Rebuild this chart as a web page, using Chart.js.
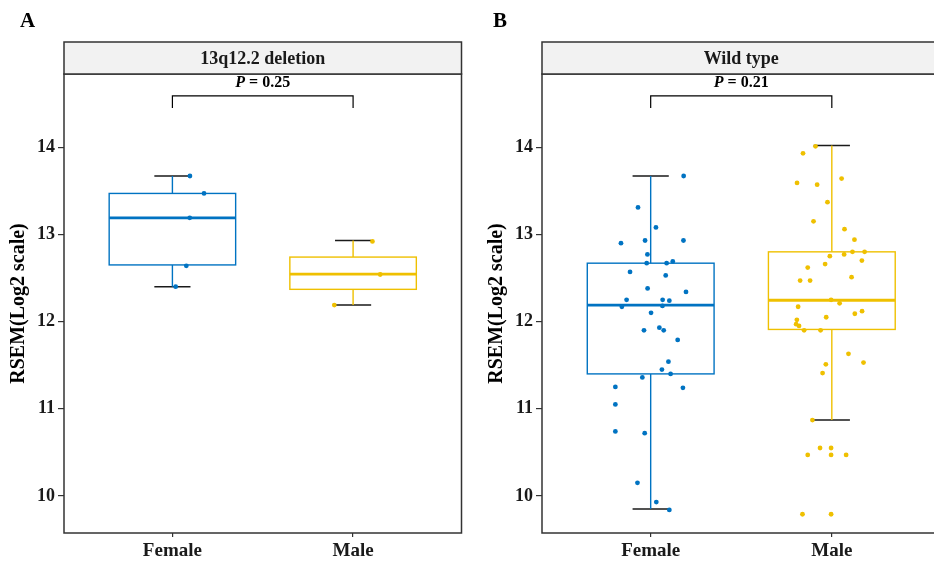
<!DOCTYPE html>
<html>
<head>
<meta charset="utf-8">
<script src="https://cdn.jsdelivr.net/npm/chart.js@4.4.1/dist/chart.umd.min.js"></script>
<style>
  html, body { margin: 0; padding: 0; background: #fff; overflow: hidden; width: 934px; height: 562px; }
  canvas { position: absolute; top: 0; }
  #panelA { left: 0; }
  #panelB { left: 478px; }
</style>
</head>
<body>
<canvas id="panelA" width="467" height="562"></canvas>
<canvas id="panelB" width="468" height="562"></canvas>
<script>
// categories and axis ticks
const categories = ['Female', 'Male'];
const yTicks = [10, 11, 12, 13, 14];
const colors = ['#0073C2', '#EFC000'];

// box stats per group: [lower whisker, Q1, median, Q3, upper whisker]
const boxA = [[12.40, 12.65, 13.19, 13.47, 13.67], [12.19, 12.37, 12.545, 12.74, 12.93]];
const boxB = [[9.85, 11.40, 12.19, 12.67, 13.67], [10.87, 11.91, 12.245, 12.80, 14.02]];

// panel A points (13q12.2 deletion)
const femaleA = [13.67, 13.47, 13.19, 12.64, 12.40];
const femaleAJitter = [0.097, 0.175, 0.096, 0.077, 0.018];
const maleA = [12.92, 12.54, 12.19];
const maleAJitter = [0.107, 0.150, -0.104];

// panel B points (wild type)
const femaleB = [13.67, 13.31, 13.08, 12.90, 12.93, 12.93, 12.77, 12.67, 12.67, 12.69, 12.57, 12.53,
  12.38, 12.34, 12.25, 12.25, 12.24, 12.17, 12.18, 12.10, 11.90, 11.93, 11.90, 11.79,
  11.54, 11.45, 11.40, 11.36, 11.25, 11.24, 11.05, 10.74, 10.72, 10.15, 9.93, 9.84];
const femaleBJitter = [0.182, -0.070, 0.029, -0.164, -0.031, 0.181, -0.018, -0.022, 0.088, 0.122, -0.114, 0.083,
  -0.017, 0.195, -0.133, 0.066, 0.103, -0.159, 0.065, 0.002, -0.037, 0.048, 0.072, 0.149,
  0.098, 0.062, 0.110, -0.046, -0.195, 0.178, -0.195, -0.195, -0.033, -0.073, 0.031, 0.103];
const maleB = [14.01, 13.93, 13.59, 13.57, 13.64, 13.37, 13.15, 13.06, 12.94, 12.75, 12.77, 12.80,
  12.80, 12.70, 12.66, 12.62, 12.47, 12.47, 12.51, 12.25, 12.21, 12.17, 12.09, 12.12,
  12.05, 12.02, 11.97, 11.95, 11.90, 11.90, 11.63, 11.53, 11.51, 11.41, 10.87, 10.55,
  10.55, 10.47, 10.47, 10.47, 9.79, 9.79];
const maleBJitter = [-0.090, -0.159, -0.192, -0.081, 0.054, -0.024, -0.101, 0.070, 0.125, -0.011, 0.068, 0.114,
  0.181, 0.166, -0.037, -0.133, -0.175, -0.120, 0.109, -0.004, 0.043, -0.186, 0.127, 0.167,
  -0.031, -0.193, -0.197, -0.181, -0.153, -0.062, 0.092, 0.175, -0.033, -0.051, -0.107, -0.065,
  -0.004, -0.133, -0.004, 0.079, -0.162, -0.004];

// significance bracket: [top, ends, label]
const bracketY = [14.59, 14.45, 14.74];
const pValues = ['0.25', '0.21'];

const serif = "'Liberation Serif', 'Times New Roman', serif";

function toPoints(values, jitter, pos) {
    return values.map((v, i) => ({ x: pos + jitter[i], y: v }));
}

function makePanel(canvasId, letter, letterX, strip, pValue, boxes, groups) {
    const boxPlugin = {
        id: 'boxes',
        beforeDatasetsDraw(chart) {
            const ctx = chart.ctx;
            const xs = chart.scales.x, ys = chart.scales.y;
            ctx.save();
            boxes.forEach((b, i) => {
                const cx = xs.getPixelForValue(i + 1);
                const half = xs.getPixelForValue(i + 1 + 0.35) - cx;
                const cap = xs.getPixelForValue(i + 1 + 0.1) - cx;
                const [lo, q1, med, q3, hi] = b.map(v => ys.getPixelForValue(v));
                // whisker caps
                ctx.strokeStyle = '#1a1a1a';
                ctx.lineWidth = 1.5;
                ctx.beginPath();
                ctx.moveTo(cx - cap, lo); ctx.lineTo(cx + cap, lo);
                ctx.moveTo(cx - cap, hi); ctx.lineTo(cx + cap, hi);
                ctx.stroke();
                // whiskers and box
                ctx.strokeStyle = colors[i];
                ctx.lineWidth = 1.4;
                ctx.beginPath();
                ctx.moveTo(cx, hi); ctx.lineTo(cx, q3);
                ctx.moveTo(cx, q1); ctx.lineTo(cx, lo);
                ctx.stroke();
                ctx.strokeRect(cx - half, q3, half * 2, q1 - q3);
                ctx.lineWidth = 2.8;
                ctx.beginPath();
                ctx.moveTo(cx - half, med); ctx.lineTo(cx + half, med);
                ctx.stroke();
            });
            ctx.restore();
        },
        afterDraw(chart) {
            const ctx = chart.ctx;
            const area = chart.chartArea;
            const xs = chart.scales.x, ys = chart.scales.y;
            ctx.save();
            // panel border
            ctx.strokeStyle = '#333';
            ctx.lineWidth = 1.5;
            ctx.strokeRect(area.left, area.top, area.right - area.left, area.bottom - area.top);
            // strip
            ctx.fillStyle = '#F2F2F2';
            ctx.fillRect(area.left, area.top - 32, area.right - area.left, 32);
            ctx.strokeRect(area.left, area.top - 32, area.right - area.left, 32);
            ctx.fillStyle = '#1a1a1a';
            ctx.font = 'bold 18px ' + serif;
            ctx.textAlign = 'center';
            ctx.textBaseline = 'middle';
            ctx.fillText(strip, (area.left + area.right) / 2, area.top - 15);
            // panel letter
            ctx.fillStyle = '#000';
            ctx.font = 'bold 21px ' + serif;
            ctx.fillText(letter, letterX, 22);
            // bracket
            const x1 = xs.getPixelForValue(1), x2 = xs.getPixelForValue(2);
            const yTop = ys.getPixelForValue(bracketY[0]), yEnd = ys.getPixelForValue(bracketY[1]);
            ctx.strokeStyle = '#000';
            ctx.lineWidth = 1.2;
            ctx.beginPath();
            ctx.moveTo(x1, yEnd); ctx.lineTo(x1, yTop); ctx.lineTo(x2, yTop); ctx.lineTo(x2, yEnd);
            ctx.stroke();
            // P label
            const yText = ys.getPixelForValue(bracketY[2]);
            ctx.font = 'italic bold 16px ' + serif;
            const wP = ctx.measureText('P').width;
            ctx.font = 'bold 16px ' + serif;
            const rest = ' = ' + pValue;
            const wRest = ctx.measureText(rest).width;
            let sx = (x1 + x2) / 2 - (wP + wRest) / 2;
            ctx.textAlign = 'left';
            ctx.font = 'italic bold 16px ' + serif;
            ctx.fillText('P', sx, yText);
            ctx.font = 'bold 16px ' + serif;
            ctx.fillText(rest, sx + wP, yText);
            ctx.restore();
        }
    };

    return new Chart(document.getElementById(canvasId).getContext('2d'), {
        type: 'scatter',
        data: {
            datasets: groups.map((g, i) => ({
                label: categories[i],
                data: toPoints(g[0], g[1], i + 1),
                backgroundColor: colors[i],
                borderWidth: 0,
                pointRadius: 2.4
            }))
        },
        options: {
            responsive: false,
            animation: false,
            devicePixelRatio: 1,
            layout: { padding: { top: 74, right: 5.5, left: 0, bottom: 0 } },
            plugins: { legend: { display: false }, tooltip: { enabled: false } },
            scales: {
                x: {
                    type: 'linear',
                    min: 0.4,
                    max: 2.6,
                    afterBuildTicks: axis => { axis.ticks = categories.map((c, i) => ({ value: i + 1 })); },
                    afterFit: scale => { scale.height = 29; },
                    border: { display: false },
                    grid: { drawOnChartArea: false, drawTicks: true, tickLength: 4, color: '#333', lineWidth: 1.2 },
                    ticks: {
                        autoSkip: false,
                        maxRotation: 0,
                        padding: 3,
                        color: '#1a1a1a',
                        font: { family: serif, size: 19, weight: 'bold' },
                        callback: v => categories[v - 1]
                    }
                },
                y: {
                    min: 9.575,
                    max: 14.84,
                    afterBuildTicks: axis => { axis.ticks = yTicks.map(v => ({ value: v })); },
                    afterFit: scale => { scale.width = 64; },
                    border: { display: false },
                    grid: { drawOnChartArea: false, drawTicks: true, tickLength: 6, color: '#333', lineWidth: 1.2 },
                    ticks: {
                        padding: 3,
                        color: '#1a1a1a',
                        font: { family: serif, size: 18, weight: 'bold' }
                    },
                    title: {
                        display: true,
                        text: 'RSEM(Log2 scale)',
                        color: '#000',
                        padding: { top: 7, bottom: 0 },
                        font: { family: serif, size: 20, weight: 'bold' }
                    }
                }
            }
        },
        plugins: [boxPlugin]
    });
}

const chartA = makePanel('panelA', 'A', 27.5, '13q12.2 deletion', pValues[0], boxA,
    [[femaleA, femaleAJitter], [maleA, maleAJitter]]);
const chartB = makePanel('panelB', 'B', 22, 'Wild type', pValues[1], boxB,
    [[femaleB, femaleBJitter], [maleB, maleBJitter]]);
</script>
</body>
</html>
